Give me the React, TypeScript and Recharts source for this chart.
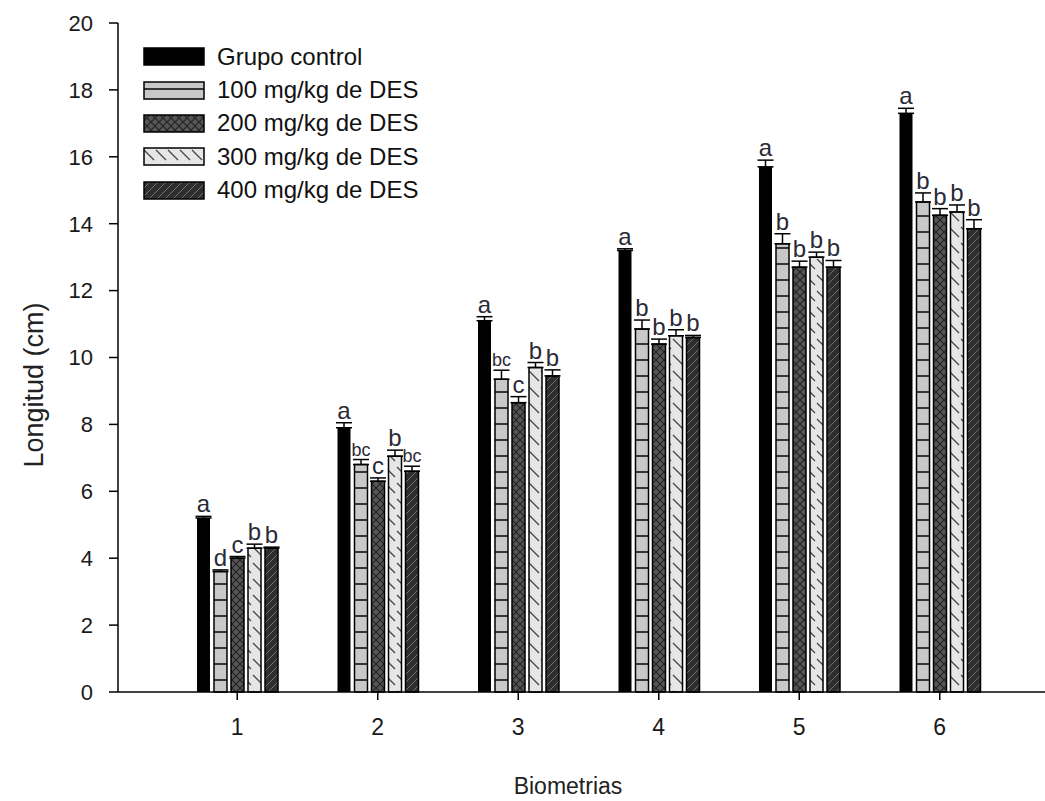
import React from "react";
import { BarChart, Bar, XAxis, YAxis, ErrorBar, LabelList, Legend } from "recharts";

const biometrias = ["1", "2", "3", "4", "5", "6"];

// medias de longitud (cm)
const grupoControl = [5.2, 7.9, 11.1, 13.2, 15.7, 17.3];
const dosis100 = [3.6, 6.8, 9.35, 10.85, 13.4, 14.65];
const dosis200 = [4.0, 6.3, 8.65, 10.4, 12.7, 14.25];
const dosis300 = [4.3, 7.05, 9.7, 10.65, 13.0, 14.35];
const dosis400 = [4.3, 6.6, 9.45, 10.6, 12.7, 13.85];

// error (solo la mitad superior se ve)
const errControl = [0.05, 0.15, 0.12, 0.05, 0.2, 0.15];
const err100 = [0.05, 0.15, 0.27, 0.27, 0.3, 0.27];
const err200 = [0.05, 0.1, 0.18, 0.15, 0.18, 0.2];
const err300 = [0.12, 0.18, 0.15, 0.18, 0.15, 0.21];
const err400 = [0.03, 0.15, 0.18, 0.06, 0.2, 0.27];

// letras de significancia
const letrasControl = ["a", "a", "a", "a", "a", "a"];
const letras100 = ["d", "bc", "bc", "b", "b", "b"];
const letras200 = ["c", "c", "c", "b", "b", "b"];
const letras300 = ["b", "b", "b", "b", "b", "b"];
const letras400 = ["b", "bc", "b", "b", "b", "b"];

const yTicks = [0, 2, 4, 6, 8, 10, 12, 14, 16, 18, 20];

const FONT = "'Liberation Sans', Arial, sans-serif";

const series = [
  { key: "control", name: "Grupo control", values: grupoControl, errors: errControl, letters: letrasControl, fill: "#000" },
  { key: "d100", name: "100 mg/kg de DES", values: dosis100, errors: err100, letters: letras100, fill: "url(#pat100)" },
  { key: "d200", name: "200 mg/kg de DES", values: dosis200, errors: err200, letters: letras200, fill: "url(#pat200)" },
  { key: "d300", name: "300 mg/kg de DES", values: dosis300, errors: err300, letters: letras300, fill: "url(#pat300)" },
  { key: "d400", name: "400 mg/kg de DES", values: dosis400, errors: err400, letters: letras400, fill: "url(#pat400)" },
];

const data = biometrias.map((b, i) => {
  const row: Record<string, any> = { name: b };
  series.forEach((s) => {
    row[s.key] = s.values[i];
    row[s.key + "Err"] = [0, s.errors[i]];
  });
  return row;
});

const Patterns = () => (
  <svg width={0} height={0} style={{ position: "absolute" }}>
    <defs>
      <pattern id="pat100" patternUnits="userSpaceOnUse" width={20} height={16}>
        <rect width={20} height={16} fill="#c8c8c8" />
        <line x1={0} y1={8} x2={20} y2={8} stroke="#111" strokeWidth={1.6} />
      </pattern>
      <pattern id="pat200" patternUnits="userSpaceOnUse" width={8} height={8}>
        <rect width={8} height={8} fill="#565656" />
        <path d="M0,0 L8,8 M8,0 L0,8" stroke="#222" strokeWidth={1.2} />
      </pattern>
      <pattern id="pat300" patternUnits="userSpaceOnUse" width={12} height={16}>
        <rect width={12} height={16} fill="#e6e6e6" />
        <path d="M1,3 L11,13" stroke="#444" strokeWidth={1.2} />
      </pattern>
      <pattern id="pat400" patternUnits="userSpaceOnUse" width={8} height={8}>
        <rect width={8} height={8} fill="#2e2e2e" />
        <path d="M0,8 L8,0" stroke="#707070" strokeWidth={1} />
      </pattern>
    </defs>
  </svg>
);

const makeLetter = (s: (typeof series)[number]) => (props: any) => {
  const { x, y, width, height, index } = props;
  const v = s.values[index];
  const pxPerUnit = Number(height) / v;
  const capY = Number(y) - s.errors[index] * pxPerUnit;
  const letter = s.letters[index];
  return (
    <text
      x={Number(x) + Number(width) / 2}
      y={capY - 4}
      textAnchor="middle"
      fontSize={letter.length > 1 ? 18 : 24}
      fontFamily={FONT}
      fill="#2a2a36"
    >
      {letter}
    </text>
  );
};

const LegendBox = () => (
  <div style={{ fontFamily: FONT, fontSize: 24, color: "#111" }}>
    {series.map((s) => (
      <div key={s.key} style={{ display: "flex", alignItems: "center", height: 33.4 }}>
        <svg width={62} height={19} style={{ marginRight: 12 }}>
          <rect x={1} y={1} width={60} height={17} fill={s.fill} stroke="#000" strokeWidth={1.5} />
        </svg>
        <span>{s.name}</span>
      </div>
    ))}
  </div>
);

export default function App() {
  return (
    <div style={{ position: "absolute", left: 0, top: 0, width: 1045, height: 801, background: "#fff" }}>
      <Patterns />
      <BarChart
        width={1045}
        height={801}
        data={data}
        margin={{ top: 23, right: 0, bottom: 0, left: 58 }}
        barSize={13}
        barGap={4}
      >
        <XAxis
          dataKey="name"
          height={109}
          padding={{ left: 49, right: 35 }}
          axisLine={{ stroke: "#000", strokeWidth: 1.5 }}
          tickLine={{ stroke: "#000", strokeWidth: 1.5 }}
          tickSize={8}
          tickMargin={19}
          tick={{ fill: "#1a1a1a", fontSize: 23, fontFamily: FONT }}
          label={() => (
            <text x={568} y={794} textAnchor="middle" fontSize={23} fontFamily={FONT} fill="#222">
              Biometrias
            </text>
          )}
        />
        <YAxis
          width={60}
          domain={[0, 20]}
          ticks={yTicks}
          interval={0}
          axisLine={{ stroke: "#000", strokeWidth: 1.5 }}
          tickLine={{ stroke: "#000", strokeWidth: 1.5 }}
          tickSize={9}
          tickMargin={16}
          tick={{ fill: "#1a1a1a", fontSize: 22, fontFamily: FONT }}
          label={() => (
            <text
              x={43}
              y={385}
              transform="rotate(-90 43 385)"
              textAnchor="middle"
              fontSize={27}
              fontFamily={FONT}
              fill="#222"
            >
              Longitud (cm)
            </text>
          )}
        />
        <Legend
          layout="horizontal"
          verticalAlign="middle"
          align="center"
          wrapperStyle={{ left: 143, top: 40, width: 330, height: 170 }}
          content={() => <LegendBox />}
        />
        {series.map((s) => (
          <Bar
            key={s.key}
            dataKey={s.key}
            name={s.name}
            fill={s.fill}
            stroke="#000"
            strokeWidth={s.key === "control" ? 0 : 1.5}
            isAnimationActive={false}
          >
            <ErrorBar dataKey={s.key + "Err"} width={8} stroke="#000" strokeWidth={1.5} />
            <LabelList dataKey={s.key} content={makeLetter(s)} />
          </Bar>
        ))}
      </BarChart>
    </div>
  );
}
